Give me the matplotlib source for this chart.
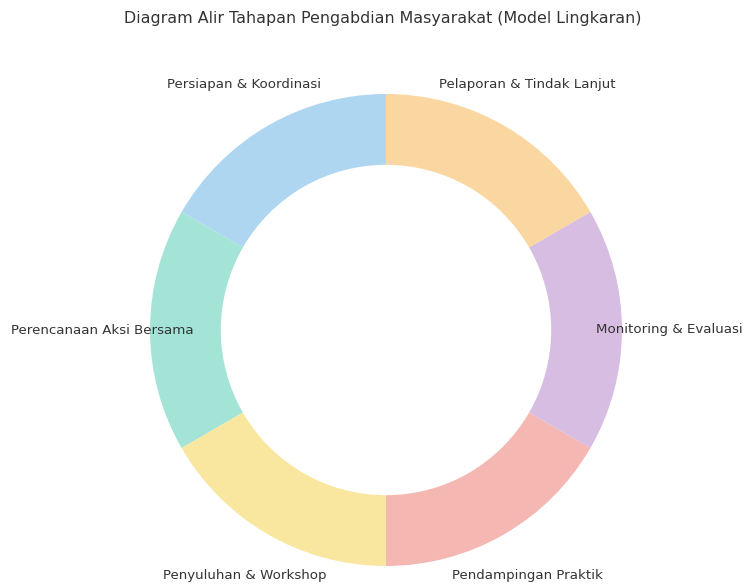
import matplotlib
matplotlib.use("Agg")
import matplotlib.pyplot as plt
import numpy as np

# tahapan (counterclockwise from top)
stages = ["Persiapan & Koordinasi", "Perencanaan Aksi Bersama", "Penyuluhan & Workshop",
          "Pendampingan Praktik", "Monitoring & Evaluasi", "Pelaporan & Tindak Lanjut"]
sizes = [1, 1, 1, 1, 1, 1]
colors = ["#aed6f1", "#a3e4d7", "#f9e79f", "#f5b7b1", "#d7bde2", "#fad7a0"]

fig = plt.figure(figsize=(7.45, 5.85), dpi=100)
L = 1.25
W = 2 * L * 236  # px for the axes width
cx, cy = 386, 585 - 330
ax = fig.add_axes([(cx - W / 2) / 745, (cy - W / 2) / 585, W / 745, W / 585])

wedges, _ = ax.pie(sizes, colors=colors, startangle=90, counterclock=True,
                   wedgeprops=dict(width=0.3, edgecolor="none"))

# labels centred at 1.2 x radius
for w, name in zip(wedges, stages):
    ang = np.deg2rad((w.theta1 + w.theta2) / 2)
    ax.text(1.2 * np.cos(ang), 1.2 * np.sin(ang), name, ha="center", va="center",
            fontsize=9.6, color="#333333", clip_on=False)

ax.set_xlim(-L, L)
ax.set_ylim(-L, L)
ax.set_aspect("equal")
ax.axis("off")

fig.text(383 / 745, 1 - 19 / 585, "Diagram Alir Tahapan Pengabdian Masyarakat (Model Lingkaran)",
         ha="center", va="center", fontsize=11.4, color="#333333")

fig.savefig("out.png", dpi=100)
